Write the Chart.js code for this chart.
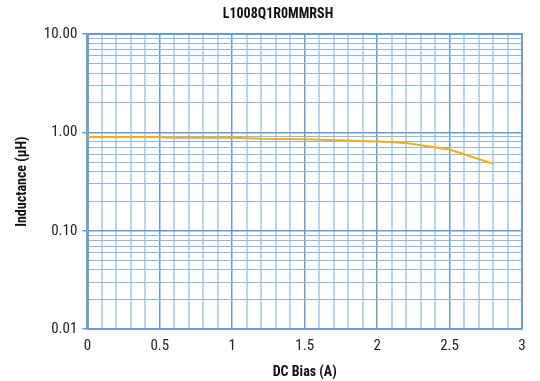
<!DOCTYPE html>
<html>
<head>
<meta charset="utf-8">
<script src="https://cdn.jsdelivr.net/npm/chart.js@4/dist/chart.umd.min.js"></script>
<style>
  html, body { margin: 0; padding: 0; background: #fff; }
  #wrap { width: 540px; height: 381px; }
</style>
</head>
<body>
<div id="wrap"><canvas id="graphique"></canvas></div>
<script>
// Donnees
const courant = [0, 0.5, 0.55, 1.0, 1.2, 1.5, 2.0, 2.2, 2.5, 2.8];
const inductance = [0.90, 0.90, 0.88, 0.88, 0.86, 0.85, 0.81, 0.78, 0.67, 0.48];
const ticksY = [0.01, 0.1, 1, 10];
const ticksX = [0, 0.5, 1, 1.5, 2, 2.5, 3];
const titre = "L1008Q1R0MMRSH";

const police = "'Roboto Condensed', 'Roboto', sans-serif";
const majeur = "rgb(105,155,212)";
const mineurX = "rgb(185,213,240)";
const mineurY = "rgb(140,185,232)";

function estMajeurX(v) {
  return ticksX.some(t => Math.abs(t - v) < 1e-6);
}
function estMajeurY(v) {
  return ticksY.some(t => Math.abs(t - v) / t < 1e-6);
}

const donnees = {
  datasets: [{
    label: titre,
    data: courant.map((x, i) => ({ x: x, y: inductance[i] })),
    borderColor: "rgb(245,175,20)",
    borderWidth: 2,
    pointRadius: 0,
    tension: 0,
    fill: false,
  }],
};

const config = {
  type: "line",
  data: donnees,
  options: {
    responsive: true,
    maintainAspectRatio: false,
    animation: false,
    layout: { padding: { top: 34, right: 18, left: 14, bottom: 0 } },
    plugins: {
      legend: { display: false },
      tooltip: { enabled: false },
      title: { display: false },
    },
    scales: {
      x: {
        type: "linear",
        min: 0,
        max: 3,
        afterBuildTicks: function (axe) {
          const t = [];
          for (let i = 0; i <= 30; i++) t.push({ value: i / 10 });
          axe.ticks = t;
        },
        ticks: {
          autoSkip: false,
          maxRotation: 0,
          color: "#222",
          font: { family: police, size: 15, lineHeight: 1.0 },
          padding: 10,
          callback: function (v) { return estMajeurX(v) ? String(Math.round(v * 10) / 10) : ""; },
        },
        grid: {
          color: c => estMajeurX(c.tick.value) ? majeur : mineurX,
          lineWidth: c => estMajeurX(c.tick.value) ? 1.5 : 2,
          drawTicks: false,
        },
        border: { color: majeur, width: 2 },
        title: {
          display: true,
          text: "DC Bias (A)",
          color: "#111",
          font: { family: police, size: 14, weight: "bold" },
          padding: { top: 0, bottom: 0 },
        },
      },
      y: {
        type: "logarithmic",
        min: 0.01,
        max: 10,
        afterBuildTicks: function (axe) {
          const t = [];
          for (let d = 0.01; d < 10; d *= 10) {
            for (let k = 1; k < 10; k++) t.push({ value: d * k });
          }
          t.push({ value: 10 });
          axe.ticks = t;
        },
        ticks: {
          autoSkip: false,
          color: "#222",
          font: { family: police, size: 15 },
          padding: 5,
          callback: function (v) { return estMajeurY(v) ? v.toFixed(2) : ""; },
        },
        grid: {
          color: c => estMajeurY(c.tick.value) ? majeur : mineurY,
          lineWidth: c => estMajeurY(c.tick.value) ? 1.5 : 1,
          tickLength: 5,
          tickColor: c => estMajeurY(c.tick.value) ? majeur : "rgba(0,0,0,0)",
        },
        border: { color: "rgb(110,160,215)", width: 3 },
        title: {
          display: true,
          text: "Inductance (µH)",
          color: "#111",
          font: { family: police, size: 14, weight: "bold" },
          padding: { top: 0, bottom: 8 },
        },
      },
    },
  },
  plugins: [{
    id: "cadre",
    afterDraw(chart) {
      const { ctx, chartArea: a } = chart;
      ctx.save();
      ctx.strokeStyle = majeur;
      ctx.lineWidth = 2;
      ctx.beginPath();
      ctx.moveTo(a.left, a.top);
      ctx.lineTo(a.right, a.top);
      ctx.lineTo(a.right, a.bottom);
      ctx.stroke();
      // titre du graphique
      ctx.fillStyle = "#111";
      ctx.font = "bold 14px " + police;
      ctx.textAlign = "center";
      ctx.textBaseline = "middle";
      ctx.fillText(titre, 278, 14);
      ctx.restore();
    },
  }],
};

const graphique = new Chart(document.querySelector("#graphique"), config);
</script>
</body>
</html>
